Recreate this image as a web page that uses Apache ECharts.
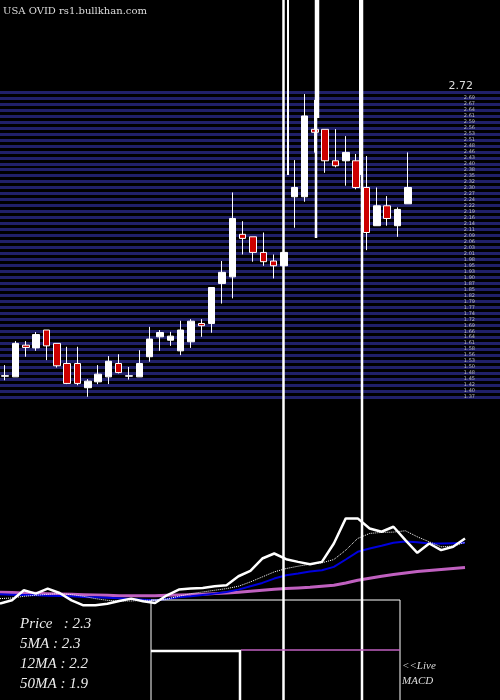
<!DOCTYPE html>
<html><head><meta charset="utf-8">
<script src="https://cdn.jsdelivr.net/npm/echarts@6/dist/echarts.min.js"></script>
<style>html,body{margin:0;padding:0;background:#000}#c{width:500px;height:700px}</style>
</head><body><div id="c"></div>
<script>
// candles: [open, close, low, high]
const candles = [
[1.464,1.466,1.446,1.513],[1.461,1.609,1.461,1.619],[1.601,1.591,1.550,1.619],[1.589,1.648,1.576,1.659],
[1.668,1.598,1.535,1.668],[1.609,1.510,1.502,1.609],[1.520,1.432,1.429,1.594],[1.520,1.432,1.424,1.594],
[1.413,1.442,1.373,1.451],[1.439,1.473,1.429,1.513],[1.461,1.530,1.429,1.553],[1.520,1.480,1.476,1.561],
[1.464,1.466,1.449,1.505],[1.461,1.520,1.461,1.579],[1.550,1.628,1.528,1.682],[1.638,1.657,1.576,1.668],
[1.623,1.641,1.598,1.660],[1.576,1.668,1.557,1.709],[1.616,1.707,1.589,1.716],[1.697,1.687,1.638,1.716],
[1.697,1.856,1.656,1.856],[1.874,1.923,1.785,1.973],[1.903,2.161,1.808,2.276],[2.091,2.073,2.002,2.149],
[2.080,2.011,1.970,2.080],[2.011,1.970,1.952,2.099],[1.973,1.952,1.896,2.002],[1.952,2.011,1.921,2.051],
[2.257,2.298,2.120,2.419],[2.257,2.614,2.235,2.711],[2.555,2.542,2.452,2.685],[2.555,2.416,2.363,2.555],
[2.416,2.394,2.387,2.556],[2.416,2.453,2.306,2.525],[2.416,2.298,2.290,2.446],[2.298,2.099,2.021,2.437],
[2.129,2.217,2.129,2.298],[2.217,2.161,2.129,2.260],[2.129,2.201,2.080,2.210],[2.226,2.298,2.226,2.453]];
const days = candles.map((_, i) => 'D' + (i + 1));
// lower panel (relative units)
const priceLine = [10,20,50,40,55,42,20,5,5,10,18,25,17,12,35,52,55,57,62,65,92,108,145,160,143,135,128,135,190,265,265,235,225,240,200,162,190,170,180,205];
const ma5 = [25,27,32,35,38,40,37,32,25,20,18,18,20,20,24,32,40,45,50,55,62,75,90,105,115,122,128,132,142,170,205,220,223,224,228,210,195,180,182,193];
const ma12 = [38,37,36,35,34,33,32,30,29,28,26,24,22,20,24,29,32,36,40,45,52,62,72,85,95,100,106,110,120,142,165,175,183,192,196,194,190,190,191,192];
const ma50 = [44,43,42,41,40,39,38,37,36,35,34,34,34,34,35,36,37,38,40,42,44,47,50,53,55,57,59,62,65,72,80,86,92,97,102,106,109,112,115,118];
const infoLines = ['Price   : 2.3', '5MA : 2.3', '12MA : 2.2', '50MA : 1.9'];

const chart = echarts.init(document.getElementById('c'));
const W = '#ffffff';
const Z = {z: 100};
chart.setOption({
  backgroundColor: '#000',
  animation: false,
  grid: [
    {left: 0, right: 0, top: 92, height: 305},
    {left: -2, width: 415, top: 92, height: 305},
    {left: 0, width: 465, top: 500, height: 107}
  ],
  xAxis: [
    {gridIndex: 0, type: 'value', show: false, min: 0, max: 1},
    {gridIndex: 1, type: 'category', data: days, show: false, boundaryGap: true},
    {gridIndex: 2, type: 'category', data: days, show: false, boundaryGap: false}
  ],
  yAxis: [
    {gridIndex: 0, type: 'value', min: 0, max: 51, interval: 1, position: 'right',
     axisLine: {show: false}, axisTick: {show: false},
     splitLine: {show: true, lineStyle: {color: '#20206a', width: 3}},
     axisLabel: {inside: true, margin: 25, fontSize: 5, color: '#bbb', fontFamily: 'DejaVu Sans',
       formatter: v => v === 51 ? '' : (1.372 + v * 1.348 / 51).toFixed(2)}},
    {gridIndex: 1, type: 'value', min: 1.372, max: 2.72, show: false},
    {gridIndex: 2, type: 'value', min: 0, max: 320, show: false}
  ],
  graphic: [
    {type: 'text', left: 3, top: 6, style: {text: 'USA OVID rs1.bullkhan.com', fill: '#ddd', font: '10px "DejaVu Serif"'}},
    {type: 'text', right: 27, top: 81, style: {text: '2.72', fill: '#ddd', font: '11px "DejaVu Sans"'}},
    {type: 'line', ...Z, shape: {x1: 283.5, y1: 0, x2: 283.5, y2: 700}, style: {stroke: W, lineWidth: 2.5}},
    {type: 'line', ...Z, shape: {x1: 288, y1: 0, x2: 288, y2: 175}, style: {stroke: W, lineWidth: 2}},
    {type: 'line', ...Z, shape: {x1: 316, y1: 0, x2: 316, y2: 238}, style: {stroke: W, lineWidth: 2.5}},
    {type: 'line', ...Z, shape: {x1: 318, y1: 0, x2: 318, y2: 118}, style: {stroke: W, lineWidth: 2.5}},
    {type: 'line', ...Z, shape: {x1: 362, y1: 0, x2: 362, y2: 700}, style: {stroke: W, lineWidth: 2.5}},
    {type: 'line', ...Z, shape: {x1: 360, y1: 0, x2: 360, y2: 175}, style: {stroke: W, lineWidth: 2}},
    {type: 'rect', ...Z, shape: {x: 151, y: 600, width: 249, height: 110}, style: {stroke: W, fill: 'none', lineWidth: 1}},
    {type: 'polyline', ...Z, shape: {points: [[151, 651], [240, 651], [240, 700]]}, style: {stroke: W, fill: 'none', lineWidth: 2.5}},
    {type: 'line', ...Z, shape: {x1: 241, y1: 650, x2: 400, y2: 650}, style: {stroke: '#c060c0', lineWidth: 1.5}},
    ...infoLines.map((t, i) => ({type: 'text', left: 20, top: 617 + i * 20,
      style: {text: t, fill: '#eee', font: 'italic 15px "Liberation Serif"'}})),
    {type: 'text', left: 402, top: 659, style: {text: '<<Live\nMACD', fill: '#ddd', font: 'italic 11px "Liberation Serif"', lineHeight: 15}}
  ],
  series: [
    {type: 'candlestick', xAxisIndex: 1, yAxisIndex: 1, data: candles, barWidth: 7,
     itemStyle: {color: '#ffffff', color0: '#cc0000', borderColor: '#ffffff', borderColor0: '#ffffff', borderWidth: 1}},
    {type: 'line', xAxisIndex: 2, yAxisIndex: 2, data: ma50, symbol: 'none', lineStyle: {color: '#c060c0', width: 3}},
    {type: 'line', xAxisIndex: 2, yAxisIndex: 2, data: ma12, symbol: 'none', lineStyle: {color: '#0000dd', width: 2}},
    {type: 'line', xAxisIndex: 2, yAxisIndex: 2, data: ma5, symbol: 'none', lineStyle: {color: '#fff', width: 1, type: 'dotted'}},
    {type: 'line', xAxisIndex: 2, yAxisIndex: 2, data: priceLine, symbol: 'none', lineStyle: {color: '#fff', width: 2.5}}
  ]
});
</script></body></html>
